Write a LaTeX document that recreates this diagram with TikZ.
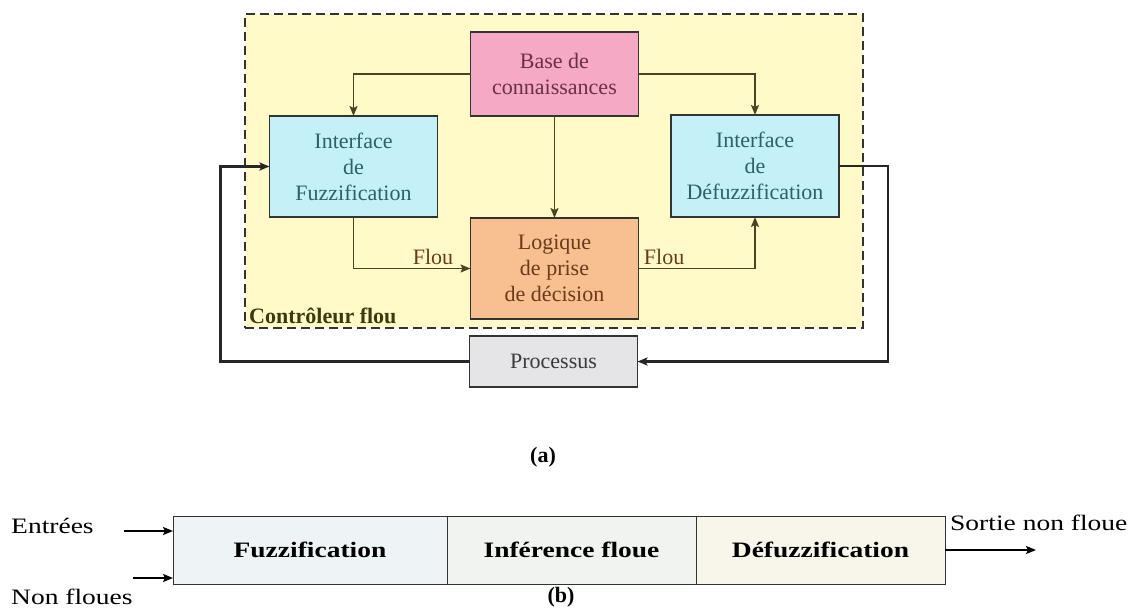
\documentclass[tikz,border=0pt]{standalone}
\usepackage{fontspec}
\setmainfont{Liberation Serif}
\newfontfamily\widefont[FakeStretch=1.25]{Liberation Serif}
\usetikzlibrary{arrows.meta, positioning}

\definecolor{zone}{HTML}{FFFAC8}
\definecolor{kbpink}{HTML}{F6A9C5}
\definecolor{ifcyan}{HTML}{C3F1F7}
\definecolor{infor}{HTML}{F8BF90}
\definecolor{prgray}{HTML}{E5E5E7}
\definecolor{lineol}{HTML}{4A4422}
\definecolor{kbtxt}{HTML}{6B3048}
\definecolor{iftxt}{HTML}{2F5F68}
\definecolor{inftxt}{HTML}{6A3A1A}
\definecolor{prtxt}{HTML}{3A3A3A}
\definecolor{olivtxt}{HTML}{3C3A10}
\definecolor{c1}{HTML}{EEF3F6}
\definecolor{c2}{HTML}{F1F3F1}
\definecolor{c3}{HTML}{F8F6EA}

\newcommand\fsz{\fontsize{22}{26}\selectfont}
\newcommand\fsw{\widefont\fontsize{22}{26}\selectfont}

\begin{document}
\begin{tikzpicture}[x=1pt, y=-1pt,
    >={Stealth[length=10pt, width=8pt, inset=2pt]},
    box/.style={rectangle, draw=black!80, line width=1.8pt, align=center, inner sep=2pt, outer sep=0pt, minimum width=168, font=\fsz},
    arrow/.style={->, line width=1.8pt, draw=lineol},
    fb/.style={->, line width=2.8pt, draw=black!85},
    flou/.style={font=\fsz, text=inftxt, inner sep=0pt},
    cell/.style={rectangle, draw=black!80, line width=1pt, minimum height=68, outer sep=0pt, font=\fsw\bfseries},
    io/.style={->, line width=2pt},
    lbl/.style={font=\fsw, inner sep=0pt, anchor=west}]
    \useasboundingbox (0,0) rectangle (1128,608);

    % (a) fuzzy controller
    \node[draw=black!80, line width=2.6pt, dash pattern=on 9pt off 5pt, fill=zone, minimum width=618, minimum height=314, outer sep=0pt] (ctrl) at (554,171) {};
    \node[font=\fsz\bfseries, text=olivtxt, anchor=south west, inner sep=2pt] (ctrllbl) at ([xshift=2pt,yshift=2pt]ctrl.south west) {Contrôleur flou};

    \node[box, fill=kbpink, text=kbtxt, minimum height=84] (kb) at (554.5,74) {Base de\\connaissances};
    \node[box, fill=ifcyan, text=iftxt, minimum height=101] (fz) at (353.5,166.5) {Interface\\de\\Fuzzification};
    \node[box, fill=ifcyan, text=iftxt, minimum height=102] (dfz) at (755,166) {Interface\\de\\Défuzzification};
    \node[box, fill=infor, text=inftxt, minimum height=101] (inf) at (554.5,268.5) {Logique\\de prise\\de décision};
    \node[box, fill=prgray, text=prtxt, minimum height=51] (pr) at (553.5,361.5) {Processus};

    \draw[arrow] (kb.west) -| (fz.north);
    \draw[arrow] (kb.east) -| (dfz.north);
    \draw[arrow] (kb) -- (inf);
    \draw[arrow] (fz.south) |- node[flou, pos=0.84, above=3pt] (flou1) {Flou} (inf.west);
    \draw[arrow] (inf.east) -| node[flou, pos=0.11, above=3pt] (flou2) {Flou} (dfz.south);

    % feedback loop
    \draw[fb] (dfz.east) -- ++(49,0) |- (pr.east);
    \draw[fb] (pr.west) -| ([xshift=-49pt]fz.west) -- (fz.west);

    \node[font=\fsz\bfseries] (capa) at (543,457) {(a)};

    % (b) chain
    \node[cell, fill=c1, minimum width=274] (fzb) at (310,550) {Fuzzification};
    \node[cell, fill=c2, minimum width=249, right=0pt of fzb] (infb) {Inférence floue};
    \node[cell, fill=c3, minimum width=249, right=0pt of infb] (dfzb) {Défuzzification};

    \coordinate (e1) at (124,531);
    \coordinate (e2) at (133,578);
    \coordinate (s1) at (1036,550);
    \draw[io] (e1) -- (e1 -| fzb.west);
    \draw[io] (e2) -- (e2 -| fzb.west);
    \draw[io] (dfzb.east) -- (s1);
    \node[lbl] (ent) at (11,526) {Entrées};
    \node[lbl] (nfl) at (11,597) {Non floues};
    \node[lbl] (sor) at (950,523) {Sortie non floue};
    \node[font=\fsz\bfseries] (capb) at (561,597) {(b)};
\end{tikzpicture}
\end{document}
